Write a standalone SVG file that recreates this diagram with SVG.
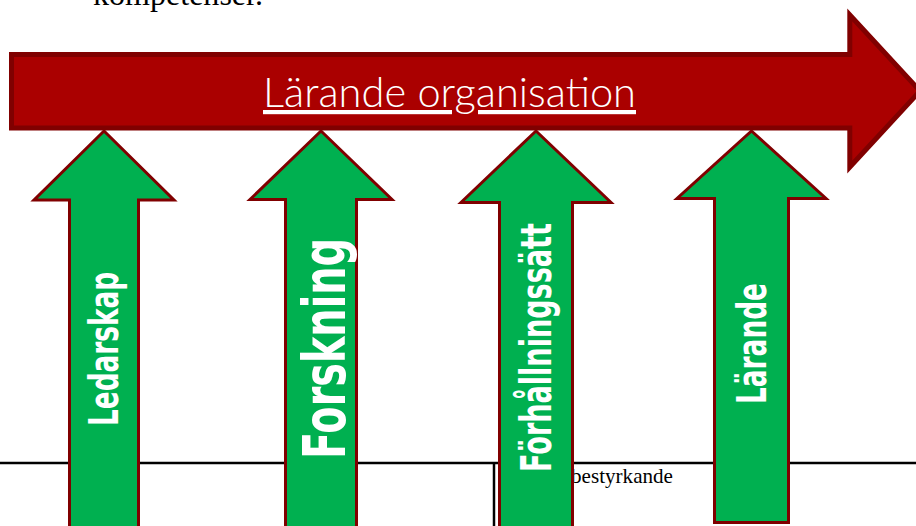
<svg xmlns="http://www.w3.org/2000/svg" width="916" height="526" viewBox="0 0 916 526">
  <style>
    .up { fill: #00B050; stroke: #800000; stroke-width: 3; stroke-linejoin: miter; }
    .lbl { fill: #FFFFFF; font-family: "Liberation Sans Narrow", "DejaVu Sans Condensed", "Liberation Sans", sans-serif; font-weight: bold; }
    .rule { stroke: #000000; stroke-width: 2.5; fill: none; }
    .serif { font-family: "Liberation Serif", "Times New Roman", serif; fill: #000000; }
  </style>
  <rect x="0" y="0" width="916" height="526" fill="#FFFFFF"/>
  <text class="serif" x="93" y="5" font-size="32" textLength="170" lengthAdjust="spacingAndGlyphs">kompetenser.</text>
  <g id="table-lines">
    <line class="rule" x1="0" y1="463" x2="916" y2="463"/>
    <line class="rule" x1="494" y1="463" x2="494" y2="526"/>
    <text class="serif" x="571" y="483" font-size="21" textLength="102" lengthAdjust="spacingAndGlyphs">bestyrkande</text>
  </g>
  <g id="ledarskap">
    <polygon class="up" points="104,131 174,200 138.5,200 138.5,540 69.5,540 69.5,200 34,200"/>
    <text class="lbl" transform="translate(118,426) rotate(-90)" font-size="41" textLength="154" lengthAdjust="spacingAndGlyphs">Ledarskap</text>
  </g>
  <g id="forskning">
    <polygon class="up" points="321,131 392,199.5 356.5,199.5 356.5,540 285.5,540 285.5,199.5 250,199.5"/>
    <text class="lbl" transform="translate(345,459) rotate(-90)" font-size="58" textLength="221" lengthAdjust="spacingAndGlyphs">Forskning</text>
  </g>
  <g id="forhallningssatt">
    <polygon class="up" points="536,131 611,202.5 572.5,202.5 572.5,540 499.5,540 499.5,202.5 461,202.5"/>
    <text class="lbl" transform="translate(551,472) rotate(-90)" font-size="42" textLength="249" lengthAdjust="spacingAndGlyphs">Förhållningssätt</text>
  </g>
  <g id="larande">
    <polygon class="up" points="751.5,131 826,198.5 788.5,198.5 788.5,522.5 714.5,522.5 714.5,198.5 677,198.5"/>
    <text class="lbl" transform="translate(766,404) rotate(-90)" font-size="41" textLength="121" lengthAdjust="spacingAndGlyphs">Lärande</text>
  </g>
  <g id="larande-organisation">
    <path d="M11.5,54.5 L849.8,54.5 L849.8,15 L920,91 L849.8,167 L849.8,128 L11.5,128 Z" fill="#AA0000" stroke="#800000" stroke-width="5" stroke-linejoin="miter"/>
    <text x="263" y="107" font-family="Lato, 'Open Sans', 'Liberation Sans', sans-serif" font-weight="300" font-size="42" fill="#FFFFFF" text-decoration="underline" textLength="373" lengthAdjust="spacingAndGlyphs">Lärande organisation</text>
  </g>
</svg>
